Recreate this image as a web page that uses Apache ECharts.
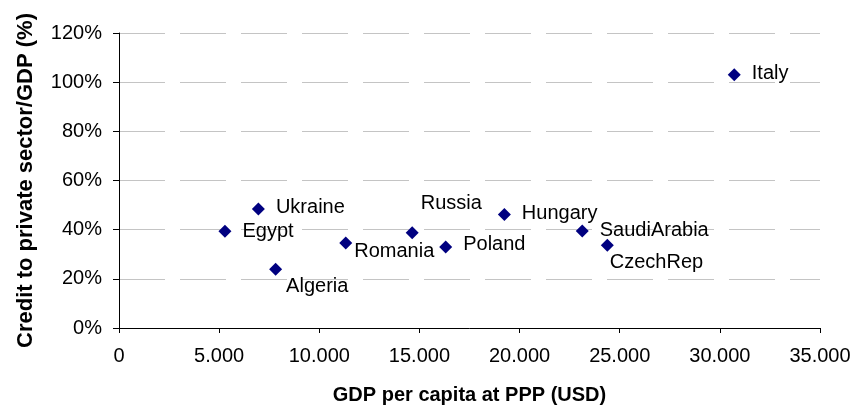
<!DOCTYPE html>
<html>
<head>
<meta charset="utf-8">
<script src="https://cdn.jsdelivr.net/npm/echarts@6/dist/echarts.min.js"></script>
<style>
    html, body { margin: 0; padding: 0; background: #fff; }
    #chart { width: 857px; height: 410px; }
</style>
</head>
<body>
<div id="chart"></div>
<script>
// data
const countries = ['Egypt', 'Ukraine', 'Algeria', 'Romania', 'Russia', 'Poland', 'Hungary', 'SaudiArabia', 'CzechRep', 'Italy'];
const gdpPerCapita = [5290, 6960, 7820, 11320, 14640, 16310, 19240, 23130, 24380, 30720];
const creditPct = [39.4, 48.4, 23.9, 34.6, 38.7, 33.0, 46.2, 39.5, 33.7, 103.0];
const xTicks = [0, 5000, 10000, 15000, 20000, 25000, 30000, 35000];
const yTicks = [0, 20, 40, 60, 80, 100, 120];

// label placement (style only)
const labelOffsets = {
    Ukraine: [0, -2],
    Algeria: [-7, 17],
    Romania: [-9, 9],
    Russia: [-9, -29],
    Poland: [0, -2],
    Hungary: [0, -1],
    CzechRep: [-15, 17],
    Italy: [0, -1]
};

const font = "'Liberation Sans', Arial, sans-serif";
const chart = echarts.init(document.getElementById('chart'));

const points = countries.map((name, i) => {
    return {
        name: name,
        value: [gdpPerCapita[i], creditPct[i]],
        label: {
            offset: labelOffsets[name] || [0, 0]
        }
    };
});

const fmtThousands = v => {
    return String(v).replace(/\B(?=(\d{3})+(?!\d))/g, '.');
};

chart.setOption({
    animation: false,
    grid: {
        left: 119,
        right: 37,
        top: 33,
        bottom: 82
    },
    xAxis: {
        type: 'value',
        min: xTicks[0],
        max: xTicks[xTicks.length - 1],
        interval: xTicks[1] - xTicks[0],
        name: 'GDP per capita at PPP (USD)',
        nameLocation: 'middle',
        nameGap: 57,
        nameTextStyle: {
            fontFamily: font,
            fontWeight: 'bold',
            fontSize: 20,
            color: '#000'
        },
        axisLine: {
            show: true,
            lineStyle: { color: '#000', width: 1 }
        },
        axisTick: {
            show: true,
            length: 5,
            lineStyle: { color: '#000' }
        },
        axisLabel: {
            fontFamily: font,
            fontSize: 20,
            color: '#000',
            margin: 18,
            formatter: fmtThousands
        },
        splitLine: { show: false }
    },
    yAxis: {
        type: 'value',
        min: yTicks[0],
        max: yTicks[yTicks.length - 1],
        interval: yTicks[1] - yTicks[0],
        name: 'Credit to private sector/GDP (%)',
        nameLocation: 'middle',
        nameGap: 82,
        nameTextStyle: {
            fontFamily: font,
            fontWeight: 'bold',
            fontSize: 22,
            color: '#000'
        },
        axisLine: {
            show: true,
            lineStyle: { color: '#000', width: 1 }
        },
        axisTick: {
            show: true,
            length: 6,
            lineStyle: { color: '#000' }
        },
        axisLabel: {
            fontFamily: font,
            fontSize: 20,
            color: '#000',
            margin: 17,
            formatter: v => v + '%'
        },
        splitLine: {
            show: true,
            lineStyle: {
                color: '#c4c4c4',
                width: 1,
                type: [46, 15]
            }
        }
    },
    series: [
        {
            type: 'scatter',
            symbol: 'diamond',
            symbolSize: 13,
            itemStyle: { color: '#000080', opacity: 1 },
            label: {
                show: true,
                position: 'right',
                distance: 11,
                fontFamily: font,
                fontSize: 20,
                color: '#000',
                formatter: p => p.name
            },
            data: points
        }
    ]
});
</script>
</body>
</html>
